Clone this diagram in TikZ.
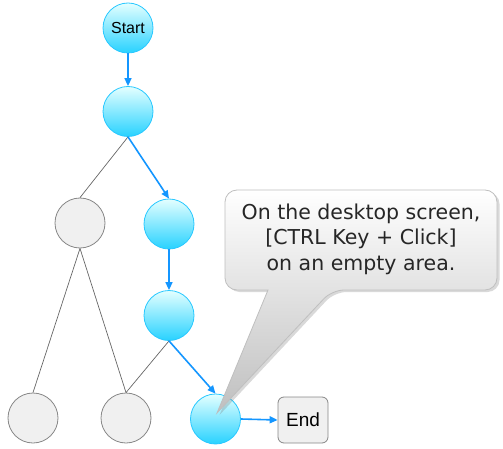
\documentclass[tikz,border=0pt]{standalone}
\usepackage{fontspec}
\setmainfont{Liberation Sans}
\newfontfamily\calloutfont{DejaVu Sans}
\usetikzlibrary{arrows.meta,shadows}
\definecolor{cyTop}{RGB}{228,255,255}
\definecolor{cyMid}{RGB}{180,246,255}
\definecolor{cyBot}{RGB}{40,210,255}
\definecolor{cyBorder}{RGB}{40,200,255}
\definecolor{flowBlue}{RGB}{20,150,255}
\definecolor{grTop}{RGB}{240,240,240}
\definecolor{grMid}{RGB}{205,205,205}
\definecolor{grBorder}{RGB}{135,135,135}
\begin{document}
\begin{tikzpicture}[x=1pt,y=-1pt,
  cynode/.style={circle,draw=cyBorder,line width=0.8pt,minimum size=50pt,inner sep=0pt,
    shading=axis,top color=cyTop,middle color=cyMid,bottom color=cyBot,font=\fontsize{16}{18}\selectfont},
  grnode/.style={circle,draw=grBorder,line width=0.8pt,minimum size=50pt,inner sep=0pt,
    shading=axis,top color=grTop,middle color=grMid,bottom color=grTop},
  endbox/.style={rectangle,rounded corners=6pt,draw=grBorder,line width=0.8pt,minimum width=50pt,minimum height=46pt,
    shading=axis,top color=grTop,middle color=grMid,bottom color=grTop,font=\fontsize{19}{21}\selectfont},
  flow/.style={draw=flowBlue,line width=1.6pt,-{Triangle[length=8pt,width=7pt]}},
  tree/.style={draw=black!60,line width=0.7pt},
  callout/.style={draw=black!25,line width=0.8pt,shading=axis,top color=white,bottom color=black!25,
    drop shadow={opacity=0.3,shadow xshift=2.5pt,shadow yshift=-2pt}}]
\useasboundingbox (0,0) rectangle (503,449);
% nodes
\node[cynode] (start) at (128,28) {Start};
\node[cynode] (n2) at (128,111.5) {};
\node[grnode] (g1) at (80,223) {};
\node[cynode] (n3) at (169,224) {};
\node[cynode] (n4) at (169,315.5) {};
\node[grnode] (g2) at (33,418) {};
\node[grnode] (g3) at (126,418) {};
\node[cynode] (n5) at (215.5,419) {};
\node[endbox] (end) at (303,420) {End};
% gray tree lines
\draw[tree] (n2.south) -- (g1.north);
\draw[tree] (g1.south) -- (g2.north);
\draw[tree] (g1.south) -- (g3.north);
\draw[tree] (n4.south) -- (g3.north);
% flow arrows
\draw[flow] (start.south) -- (n2.north);
\draw[flow] (n2.south) -- (n3.north);
\draw[flow] (n3.south) -- (n4.north);
\draw[flow] (n4.south) -- (n5.north);
\draw[flow] (n5.east) -- (end.west);
% callout
\coordinate (tip) at (217,413);
\path[callout] (332,290) -- (tip) -- (268,290) [rounded corners=12pt] -- (225,290) -- (225,190) -- (497,190) -- (497,290) -- cycle;
\node[align=center,font=\calloutfont\fontsize{20.5}{25.5}\selectfont,text=black!85] (txt) at (361,239)
  {On the desktop screen,\\{[CTRL Key + Click]}\\on an empty area.};
\end{tikzpicture}
\end{document}
